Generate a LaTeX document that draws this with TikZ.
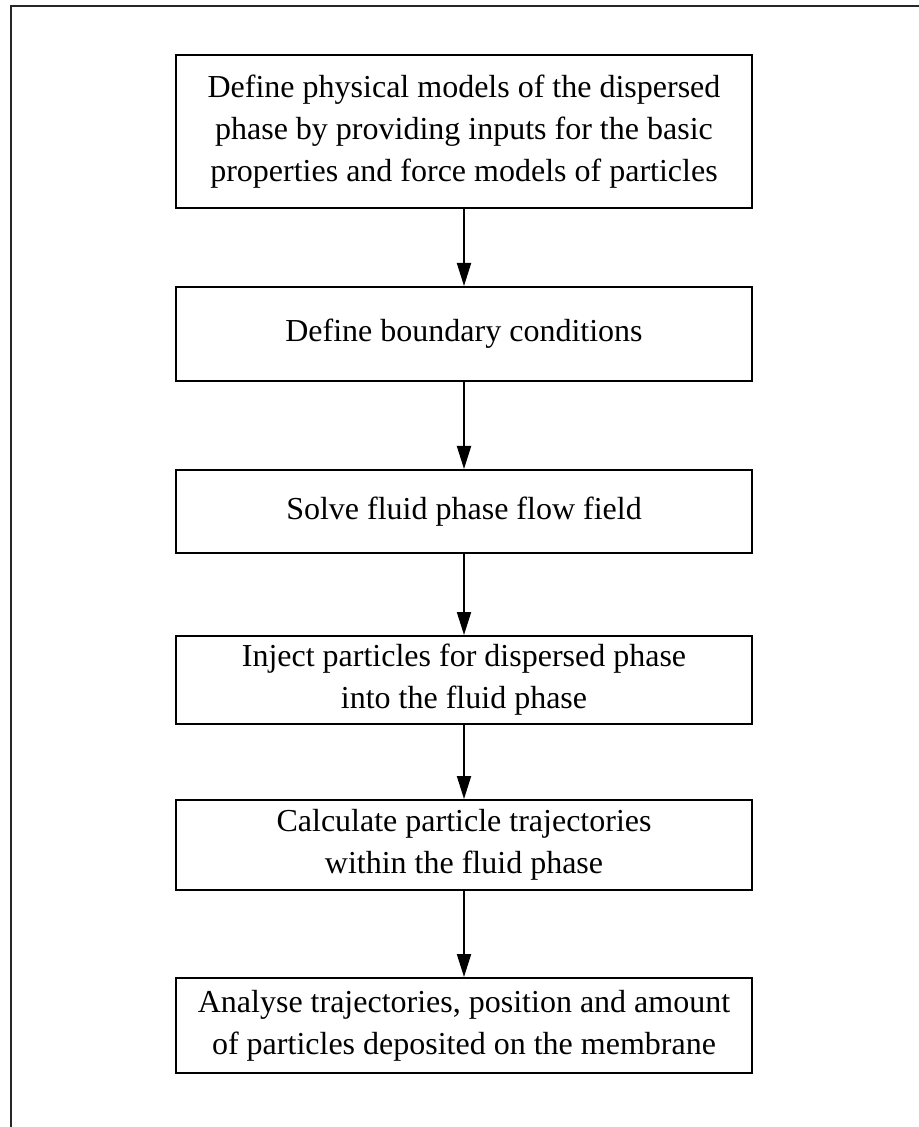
\documentclass[tikz,border=0pt]{standalone}
\usepackage{fontspec}
\setmainfont{Liberation Serif}
\usetikzlibrary{arrows.meta}

\begin{document}
\begin{tikzpicture}[
  x=0.5pt, y=-0.5pt,
  stepbox/.style={draw,rectangle,line width=1pt,minimum width=288pt,inner sep=3pt,
    align=center,font=\fontsize{16}{21}\selectfont},
  flow/.style={-{Triangle[length=11.5pt,width=7pt]},line width=1pt}
]
  \useasboundingbox (0,0) rectangle (918,1127);

  % outer frame
  \coordinate (fbl) at (11,1140);
  \coordinate (ftl) at (11,6);
  \coordinate (ftr) at (930,6);
  \draw[line width=1pt,black!85] (fbl) -- (ftl) -- (ftr);

  % steps
  \node[stepbox,minimum height=76.5pt] (s1) at (464,131.5)
    {Define physical models of the dispersed\\phase by providing inputs for the basic\\properties and force models of particles};
  \node[stepbox,minimum height=47pt] (s2) at (464,334) {Define boundary conditions};
  \node[stepbox,minimum height=41.5pt] (s3) at (464,511.5) {Solve fluid phase flow field};
  \node[stepbox,minimum height=44pt] (s4) at (464,680)
    {Inject particles for dispersed phase\\into the fluid phase};
  \node[stepbox,minimum height=45pt] (s5) at (464,845)
    {Calculate particle trajectories\\within the fluid phase};
  \node[stepbox,minimum height=47.5pt] (s6) at (464,1025.5)
    {Analyse trajectories, position and amount\\of particles deposited on the membrane};

  % arrows
  \draw[flow] (s1) -- (s2);
  \draw[flow] (s2) -- (s3);
  \draw[flow] (s3) -- (s4);
  \draw[flow] (s4) -- (s5);
  \draw[flow] (s5) -- (s6);

\end{tikzpicture}
\end{document}
